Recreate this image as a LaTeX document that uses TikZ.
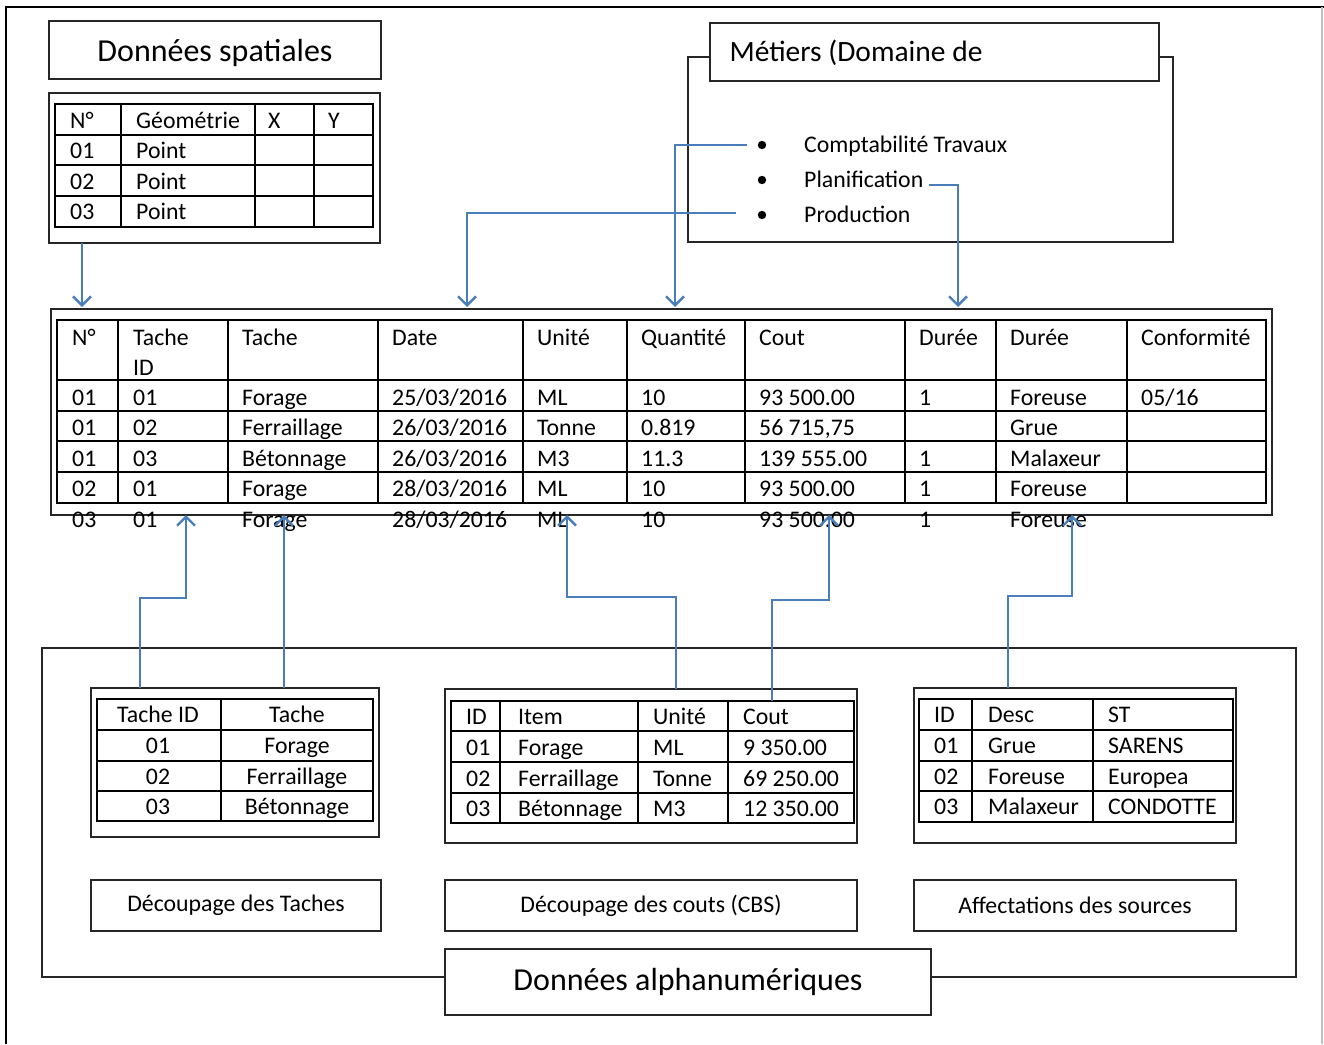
\documentclass[tikz,border=0pt]{standalone}
\usepackage{fontspec}
\setmainfont{Carlito}
\usetikzlibrary{arrows.meta}
\definecolor{linkblue}{RGB}{74,126,187}
\begin{document}
\begin{tikzpicture}[x=1pt,y=-1pt,
  frame/.style={draw=black!85,line width=1.4pt,fill=white,inner sep=0pt,outer sep=0pt,anchor=north west},
  grid/.style={line width=1.9pt,line cap=rect},
  link/.style={draw=linkblue,line width=2.6pt,-{Straight Barb[length=9pt,width=18pt,line width=2.4pt]}},
  cell/.style={anchor=base west,inner sep=0pt,font=\fontsize{23.8}{28}\selectfont},
  ccell/.style={anchor=base,inner sep=0pt,font=\fontsize{23.8}{28}\selectfont},
  label/.style={font=\fontsize{23.8}{28}\selectfont},
  title/.style={font=\fontsize{32}{36}\selectfont},
]
\useasboundingbox (0,0) rectangle (1324,1044);

% page frame
\draw[line width=1.8pt] (6,1044) -- (6,7) -- (1324,7);
\draw[black!25,line width=1.2pt] (1322,7) -- (1322,1044);

% ---------- spatial data ----------
\node[frame,minimum width=332,minimum height=58] (spbox) at (49,21) {};
\node[title] (sptitle) at (215,53) {Données spatiales};
\node[frame,minimum width=331,minimum height=150] (sptab) at (49,93) {};
\draw[grid] (55,104) rectangle (373,227);
\foreach \y in {135,165,196} \draw[grid] (55,\y) -- (373,\y);
\foreach \x in {121,255,314} \draw[grid] (\x,104) -- (\x,227);
\def\spx{{70,136,268,328}}
\foreach \r/\yy/\row in {0/128/{N°,Géométrie,X,Y},1/158/{01,Point,,},2/189/{02,Point,,},3/219/{03,Point,,}}{
  \foreach \t [count=\i from 0] in \row {
    \pgfmathsetmacro\xx{\spx[\i]}
    \node[cell] (sp-\r-\i) at (\xx,\yy) {\t};
  }
}

% ---------- business domains ----------
\node[frame,minimum width=485,minimum height=185] (mbox) at (688,57) {};
\node[frame,minimum width=449,minimum height=58] (mtitlebox) at (710,23) {};
\node[font=\fontsize{29.5}{34}\selectfont,anchor=west] (mtitle) at (726,53) {Métiers (Domaine de};
\foreach \n/\yy/\t in {1/145/Comptabilité Travaux,2/180/Planification,3/215/Production}{
  \fill (762,\yy) circle (4.2);
  \node[cell] (item\n) at (804,\yy+7) {\t};
}

% ---------- main table ----------
\node[frame,minimum width=1221,minimum height=206,fill=none] (main) at (51,309) {};
\draw[grid] (57,320) rectangle (1266,503);
\foreach \y in {380,411,441,472} \draw[grid] (57,\y) -- (1266,\y);
\foreach \x in {118,228,378,523,627,745,905,996,1127} \draw[grid] (\x,320) -- (\x,503);
\def\mx{{72,133,242,392,537,641,759,919,1010,1141}}
\foreach \t [count=\i from 0] in {N°,Tache,Tache,Date,Unité,Quantité,Cout,Durée,Durée,Conformité}{
  \pgfmathsetmacro\xx{\mx[\i]}
  \node[cell] (h-\i) at (\xx,345) {\t};
}
\node[cell] (h-id) at (133,375) {ID};
\foreach \r/\yy/\row in {
  1/405/{01,01,Forage,25/03/2016,ML,10,93 500.00,1,Foreuse,05/16},
  2/435/{01,02,Ferraillage,26/03/2016,Tonne,0.819,{56 715,75},,Grue,},
  3/466/{01,03,Bétonnage,26/03/2016,M3,11.3,139 555.00,1,Malaxeur,},
  4/496/{02,01,Forage,28/03/2016,ML,10,93 500.00,1,Foreuse,},
  5/527/{03,01,Forage,28/03/2016,ML,10,93 500.00,1,Foreuse,}}{
  \foreach \t [count=\i from 0] in \row {
    \pgfmathsetmacro\xx{\mx[\i]}
    \node[cell] (m-\r-\i) at (\xx,\yy) {\t};
  }
}

% ---------- alphanumeric data ----------
\node[frame,minimum width=1254,minimum height=329,fill=none] (abox) at (42,648) {};

% task breakdown
\node[frame,minimum width=288,minimum height=149] (tbox) at (91,688) {};
\draw[grid] (97,699) rectangle (373,821);
\foreach \y in {730,761,791} \draw[grid] (97,\y) -- (373,\y);
\draw[grid] (221,699) -- (221,821);
\foreach \r/\yy/\a/\b in {0/722/Tache ID/Tache,1/753/01/Forage,2/784/02/Ferraillage,3/814/03/Bétonnage}{
  \node[ccell] (t-\r-0) at (158,\yy) {\a};
  \node[ccell] (t-\r-1) at (297,\yy) {\b};
}
\node[frame,minimum width=290,minimum height=51] (tlabel) at (91,880) {};
\node[label] at (tlabel.center) {Découpage des Taches};

% cost breakdown
\node[frame,minimum width=412,minimum height=154] (cbox) at (445,689) {};
\draw[grid] (451,701) rectangle (854,823);
\foreach \y in {731,762,793} \draw[grid] (451,\y) -- (854,\y);
\foreach \x in {500,638,728} \draw[grid] (\x,701) -- (\x,823);
\def\cx{{466,518,653,743}}
\foreach \r/\yy/\row in {0/724/{ID,Item,Unité,Cout},1/755/{01,Forage,ML,9 350.00},2/786/{02,Ferraillage,Tonne,69 250.00},3/816/{03,Bétonnage,M3,12 350.00}}{
  \foreach \t [count=\i from 0] in \row {
    \pgfmathsetmacro\xx{\cx[\i]}
    \node[cell] (c-\r-\i) at (\xx,\yy) {\t};
  }
}
\node[frame,minimum width=412,minimum height=51] (clabel) at (445,880) {};
\node[label] at (clabel.center) {Découpage des couts (CBS)};

% resource allocation
\node[frame,minimum width=322,minimum height=155] (rbox) at (914,688) {};
\draw[grid] (919,699) rectangle (1233,822);
\foreach \y in {730,761,791} \draw[grid] (919,\y) -- (1233,\y);
\foreach \x in {972,1093} \draw[grid] (\x,699) -- (\x,822);
\def\rx{{934,988,1108}}
\foreach \r/\yy/\row in {0/722/{ID,Desc,ST},1/753/{01,Grue,SARENS},2/784/{02,Foreuse,Europea},3/814/{03,Malaxeur,CONDOTTE}}{
  \foreach \t [count=\i from 0] in \row {
    \pgfmathsetmacro\xx{\rx[\i]}
    \node[cell] (r-\r-\i) at (\xx,\yy) {\t};
  }
}
\node[frame,minimum width=322,minimum height=51] (rlabel) at (914,880) {};
\node[label] at (rlabel.center) {Affectations des sources};

\node[frame,minimum width=486,minimum height=66] (atitlebox) at (445,949) {};
\node[title] at (atitlebox.center) {Données alphanumériques};

% ---------- connectors ----------
\coordinate (sp-out) at (82,243);
\coordinate (in-n)   at (82,307);
\coordinate (in-date) at (467,307);
\coordinate (in-qty)  at (675,307);
\coordinate (in-dur)  at (958,307);
\coordinate (prod-out) at (736,213);
\coordinate (cpt-out)  at (747,145);
\coordinate (plan-out) at (929,185);
\draw[link] (sp-out) -- (in-n);
\draw[link] (prod-out) -| (in-date);
\draw[link] (cpt-out) -| (in-qty);
\draw[link] (plan-out) -| (in-dur);

\coordinate (t-out1) at (140,688);
\coordinate (t-out2) at (284,688);
\coordinate (c-out1) at (676,689);
\coordinate (c-out2) at (772,701);
\coordinate (r-out)  at (1008,688);
\coordinate (in-tid)  at (186,515);
\coordinate (in-tache) at (284,515);
\coordinate (in-unit)  at (567,515);
\coordinate (in-cost)  at (829,515);
\coordinate (in-res)   at (1072,515);
\draw[link] (t-out1) -- (140,598) -| (in-tid);
\draw[link] (t-out2) -- (in-tache);
\draw[link] (c-out1) -- (676,597) -| (in-unit);
\draw[link] (c-out2) -- (772,600) -| (in-cost);
\draw[link] (r-out) -- (1008,596) -| (in-res);
\end{tikzpicture}
\end{document}
